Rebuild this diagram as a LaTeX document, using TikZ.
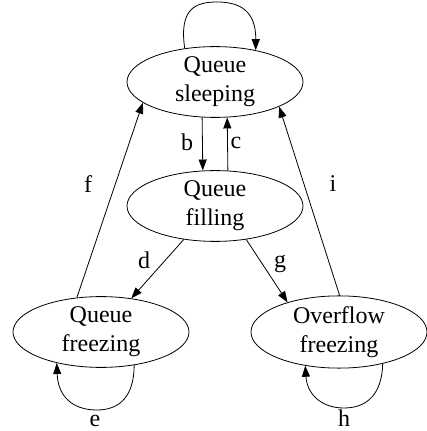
\documentclass[tikz,border=0pt]{standalone}
\usepackage{fontspec}
\setmainfont{Liberation Serif}
\usepackage{tikz}
\usetikzlibrary{arrows.meta,positioning,shapes.geometric}

\begin{document}
\begin{tikzpicture}[
  x=1pt, y=1pt,
  state/.style={draw, ellipse, line width=0.8pt, minimum width=176pt, minimum height=69pt, inner sep=0pt, align=center, font=\fontsize{24}{29}\selectfont},
  lbl/.style={font=\fontsize{24}{29}\selectfont, inner sep=0pt},
  arr/.style={-{Triangle[length=11pt, width=8pt]}, line width=0.8pt}
]
\useasboundingbox (0,0) rectangle (427,431);
\node[state] (qs) at (215,349) {Queue\\sleeping};
\node[state] (qf) at (215,225) {Queue\\filling};
\node[state] (qz) at (101,99) {Queue\\freezing};
\node[state] (of) at (339,99) {Overflow\\freezing};

% self loops
\draw[arr] (qs.132) .. controls (179,422) and (195,429) .. (217,429) .. controls (240,429) and (256,420) .. (qs.38);
\draw[arr] (qz.315) .. controls (134,35) and (120,21) .. (97,21) .. controls (72,21) and (58,35) .. (qz.215);
\draw[arr] (of.324) .. controls (382,38) and (368,23) .. (344,23) .. controls (320,23) and (307,38) .. (of.225);

% transitions
\draw[arr] (qs.250.6) -- (qf.109.4);
\draw[arr] (qf.70.6) -- (qs.289.4);
\draw[arr] (qf.227) -- (qz.48);
\draw[arr] (qf.313) -- (of.150);
\draw[arr] (qz.125.9) -- (qs.196);
\draw[arr] (of.89) -- (qs.339);

\node[lbl] (lb) at (187,288.5) {b};
\node[lbl] (lc) at (236,288.5) {c};
\node[lbl] (ld) at (144,171) {d};
\node[lbl] (lg) at (280,167.5) {g};
\node[lbl] (lf) at (88,247) {f};
\node[lbl] (li) at (333,247) {i};
\node[lbl] (le) at (95,10.5) {e};
\node[lbl] (lh) at (344,12.5) {h};
\end{tikzpicture}
\end{document}
